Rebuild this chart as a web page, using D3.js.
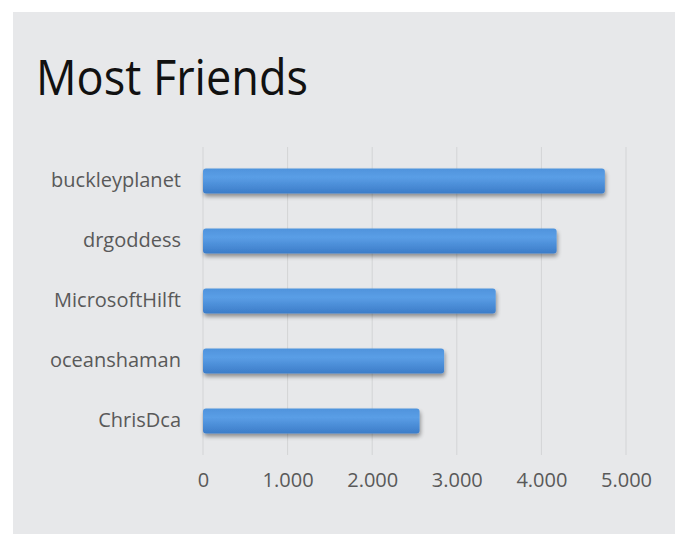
<!DOCTYPE html>
<html>
<head>
<meta charset="utf-8">
<script src="https://cdn.jsdelivr.net/npm/d3@7"></script>
<style>
  html, body { margin: 0; padding: 0; background: #ffffff; }
  svg { display: block; }
</style>
</head>
<body>
<script>
// Friend counts per account
const names = ["buckleyplanet", "drgoddess", "MicrosoftHilft", "oceanshaman", "ChrisDca"];
const friends = [4750, 4180, 3460, 2850, 2560];
const tickValues = [0, 1000, 2000, 3000, 4000, 5000];
const tickLabels = ["0", "1.000", "2.000", "3.000", "4.000", "5.000"];
const title = "Most Friends";

const W = 675, H = 534;
const svg = d3.select("body").append("svg").attr("width", W).attr("height", H);

// gradient + soft shadow for the bars
const defs = svg.append("defs");
const grad = defs.append("linearGradient").attr("id", "barGrad")
  .attr("x1", 0).attr("y1", 0).attr("x2", 0).attr("y2", 1);
grad.append("stop").attr("offset", "0%").attr("stop-color", "#4f93dc");
grad.append("stop").attr("offset", "35%").attr("stop-color", "#5a9ee6");
grad.append("stop").attr("offset", "100%").attr("stop-color", "#3c7cc8");

const shadow = defs.append("filter").attr("id", "barShadow")
  .attr("x", "-5%").attr("y", "-30%").attr("width", "110%").attr("height", "180%");
shadow.append("feGaussianBlur").attr("in", "SourceAlpha").attr("stdDeviation", 2.2).attr("result", "b");
shadow.append("feOffset").attr("in", "b").attr("dx", 1).attr("dy", 2.5).attr("result", "o");
shadow.append("feComponentTransfer").attr("in", "o").attr("result", "s")
  .append("feFuncA").attr("type", "linear").attr("slope", 0.4);
const merge = shadow.append("feMerge");
merge.append("feMergeNode").attr("in", "s");
merge.append("feMergeNode").attr("in", "SourceGraphic");

// panel background
svg.append("rect").attr("x", 13).attr("y", 12).attr("width", W - 13).attr("height", H - 12)
  .attr("fill", "#e7e8ea");

// title
svg.append("text")
  .attr("x", 36).attr("y", 95)
  .attr("font-family", "'Open Sans', 'Noto Sans', sans-serif")
  .attr("font-size", 50)
  .attr("fill", "#111111")
  .attr("textLength", 272)
  .attr("lengthAdjust", "spacingAndGlyphs")
  .text(title);

// scales
const x = d3.scaleLinear().domain([0, 5000]).range([203, 626]);
const y = d3.scaleBand().domain(names).range([151, 451])
  .paddingInner(0.583).paddingOuter(0.29);

// vertical gridlines
svg.append("g").selectAll("line").data(tickValues).join("line")
  .attr("x1", d => x(d)).attr("x2", d => x(d))
  .attr("y1", 147).attr("y2", 455)
  .attr("stroke", "#d3d4d6").attr("stroke-width", 1);

// bars
svg.append("g").selectAll("rect").data(names).join("rect")
  .attr("x", x(0))
  .attr("y", d => y(d))
  .attr("width", (d, i) => x(friends[i]) - x(0))
  .attr("height", y.bandwidth())
  .attr("rx", 3)
  .attr("fill", "url(#barGrad)")
  .attr("filter", "url(#barShadow)");

// category labels
const yAxis = svg.append("g").attr("transform", `translate(${x(0)},0)`)
  .call(d3.axisLeft(y).tickSize(0).tickPadding(22));
yAxis.select(".domain").remove();
yAxis.selectAll("text")
  .attr("font-family", "'Open Sans', 'Noto Sans', sans-serif")
  .attr("font-size", 20)
  .attr("fill", "#595959");

// value axis labels
const xAxis = svg.append("g").attr("transform", "translate(0,469)")
  .call(d3.axisBottom(x).tickValues(tickValues).tickFormat((d, i) => tickLabels[i]).tickSize(0).tickPadding(4));
xAxis.select(".domain").remove();
xAxis.selectAll("text")
  .attr("font-family", "'Open Sans', 'Noto Sans', sans-serif")
  .attr("font-size", 20)
  .attr("fill", "#595959");
</script>
</body>
</html>
